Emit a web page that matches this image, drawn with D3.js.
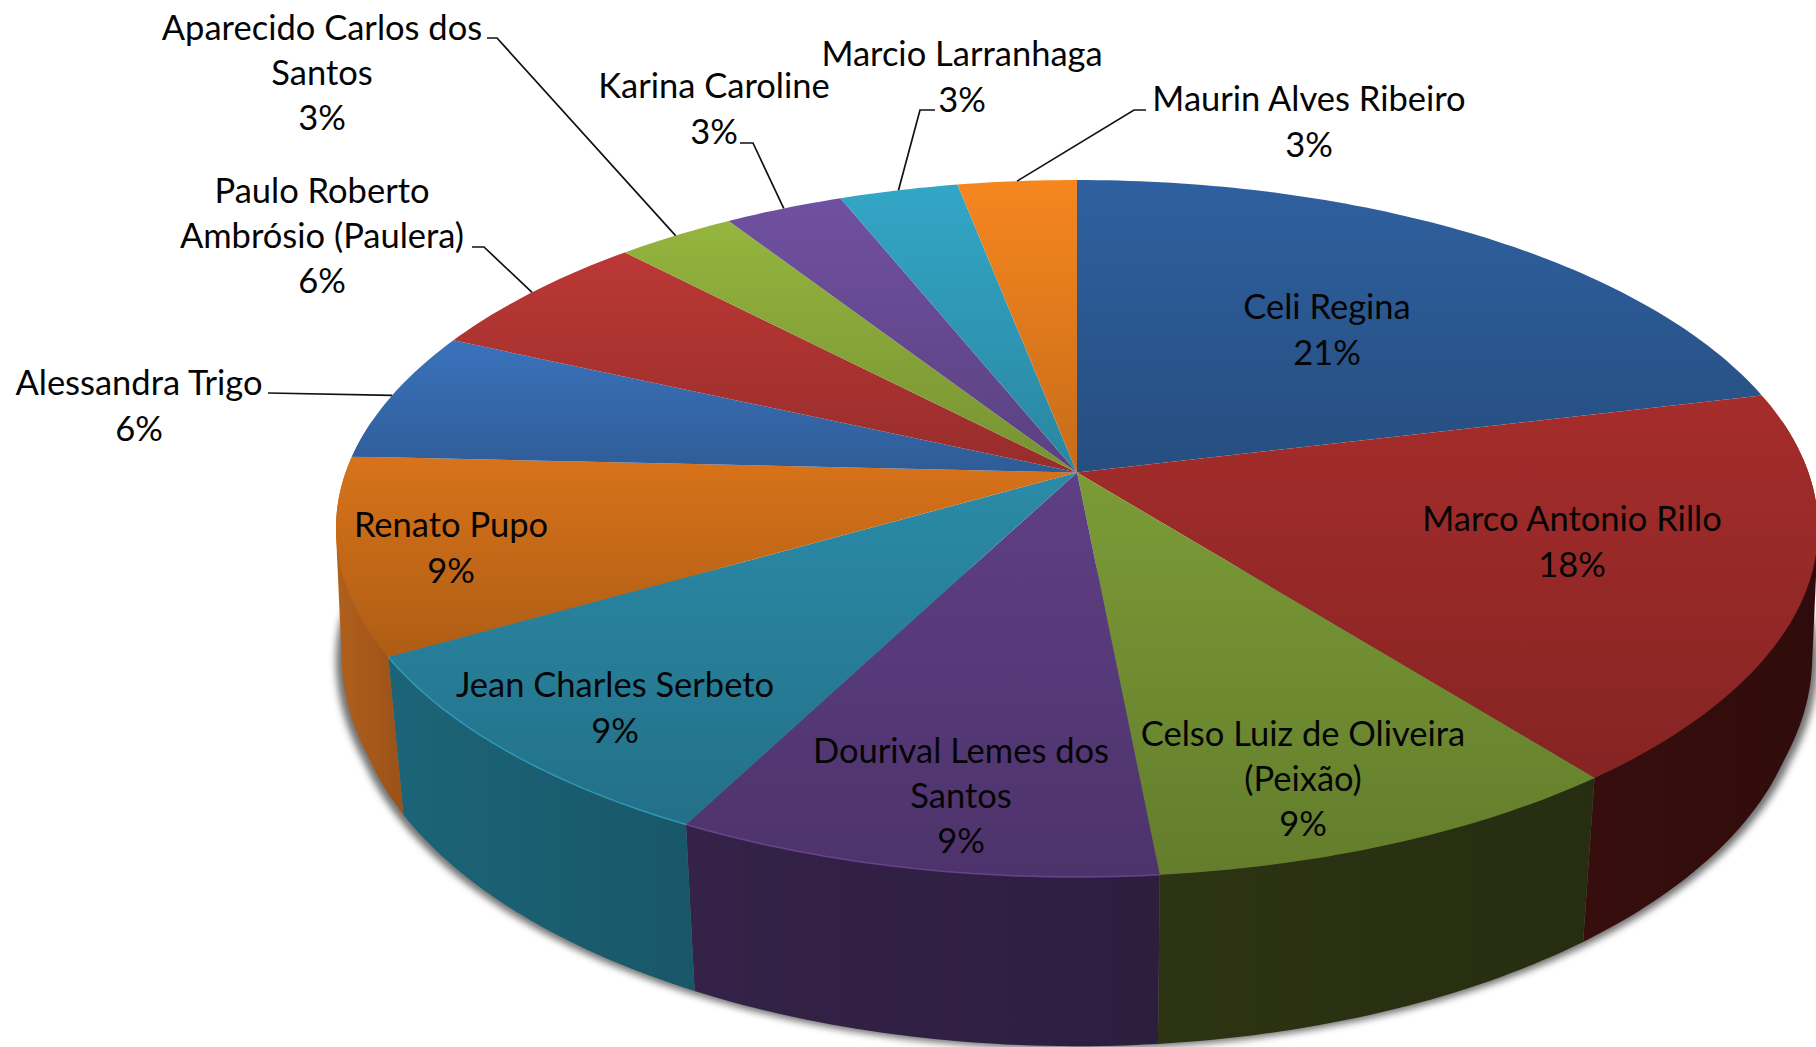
<!DOCTYPE html>
<html>
<head>
<meta charset="utf-8">
<script src="https://cdn.jsdelivr.net/npm/d3@7"></script>
<style>
  html, body { margin: 0; padding: 0; background: #fff; overflow: hidden; }
  text { font-family: Lato, "Open Sans", sans-serif; font-size: 34.5px; fill: #050505; }
</style>
</head>
<body>
<div id="chart"></div>
<script>
// chart data
const names = ["Celi Regina", "Marco Antonio Rillo", "Celso Luiz de Oliveira (Peixão)", "Dourival Lemes dos Santos",
  "Jean Charles Serbeto", "Renato Pupo", "Alessandra Trigo", "Paulo Roberto Ambrósio (Paulera)",
  "Aparecido Carlos dos Santos", "Karina Caroline", "Marcio Larranhaga", "Maurin Alves Ribeiro"];
const counts = [7, 6, 3, 3, 3, 3, 2, 2, 1, 1, 1, 1];
const percentLabels = ["21%", "18%", "9%", "9%", "9%", "9%", "6%", "6%", "3%", "3%", "3%", "3%"];
const nameLines = [["Celi Regina"], ["Marco Antonio Rillo"], ["Celso Luiz de Oliveira", "(Peixão)"], ["Dourival Lemes dos", "Santos"],
  ["Jean Charles Serbeto"], ["Renato Pupo"], ["Alessandra Trigo"], ["Paulo Roberto", "Ambrósio (Paulera)"],
  ["Aparecido Carlos dos", "Santos"], ["Karina Caroline"], ["Marcio Larranhaga"], ["Maurin Alves Ribeiro"]];
const colors = ["#2f609f", "#a52d2b", "#7b9b36", "#5f3f85", "#2b8ba8", "#d8731a", "#3a72bb", "#bb3835", "#94b53e", "#7050a0", "#33a6c6", "#f6861f"];
const wallColors = ["#1f4271", "#330d0c", "#2a3012", "#302043", "#1a5d70", "#a5581a", "#3a72bb", "#bb3835", "#94b53e", "#7050a0", "#33a6c6", "#f6861f"];

// layout, label centres and leader lines
const width = 1816, height = 1047;
const labelCentres = [[1327, 331], [1572, 543], [1303, 780], [961, 797], [615, 709], [451, 549], [139, 407], [322, 237], [322, 74], [714, 110], [962, 78], [1309, 123]];
const leaderElbows = [null, null, null, null, null, null, [268, 393], [484, 247], [497, 38], [753, 143], [920, 110], [1134, 110]];
const leaderEnds = [null, null, null, null, null, null, [268, 393], [472, 247], [487, 38], [740, 143], [935, 110], [1146, 110]];

const svg = d3.select("#chart").append("svg").attr("width", width).attr("height", height);
const defs = svg.append("defs");

// perspective projection of the unit disc on to the page
const cx = 1077, cy = 472.5, A = 731.4, B = 339.5, k = 0.1607;
function topRim(a) {
  const u = Math.sin(a), v = -Math.cos(a), w = 1 - k * v;
  return [cx + A * u / w, cy + B * v / w];
}
function bottomRim(a) {
  const p = topRim(a), v = -Math.cos(a);
  const sx = Math.min(1, Math.max(0.978, 1 - 0.06 * v));
  return [cx + (p[0] - cx) * sx, p[1] * 1.053 + 122.7];
}
function arcPts(fn, a0, a1) {
  const n = Math.max(2, Math.ceil((a1 - a0) * 60));
  return d3.range(n + 1).map(i => fn(a0 + (a1 - a0) * i / n));
}

const arcs = d3.pie().sort(null).value(d => d)(counts);
const line = d3.line();

// soft shadow under the pie
defs.append("filter").attr("id", "blur").attr("x", "-10%").attr("y", "-10%").attr("width", "120%").attr("height", "120%")
  .append("feGaussianBlur").attr("stdDeviation", 3.5);
svg.append("path")
  .attr("d", line(arcPts(a => { const p = bottomRim(a); return [cx + (p[0] - cx) * 1.008, p[1] + 3]; }, 0.45 * Math.PI, 1.55 * Math.PI)))
  .attr("fill", "#444").attr("opacity", 0.75).attr("filter", "url(#blur)");

// side walls, only the front of the rim is visible
const walls = svg.append("g");
arcs.forEach((d, i) => {
  const a0 = Math.max(d.startAngle, 0.45 * Math.PI), a1 = Math.min(d.endAngle, 1.55 * Math.PI);
  if (a1 <= a0) return;
  const upper = arcPts(topRim, a0, a1), lower = arcPts(bottomRim, a0, a1).reverse();
  const hull = d3.polygonHull(upper.concat(lower));
  const id = "wall" + i;
  const xs = hull.map(p => p[0]);
  const g = defs.append("linearGradient").attr("id", id).attr("gradientUnits", "userSpaceOnUse")
    .attr("x1", d3.min(xs)).attr("x2", d3.max(xs)).attr("y1", 0).attr("y2", 0);
  g.append("stop").attr("offset", 0).attr("stop-color", d3.color(wallColors[i]).brighter(0.2));
  g.append("stop").attr("offset", 1).attr("stop-color", d3.color(wallColors[i]).darker(0.2));
  walls.append("path").attr("d", line(hull) + "Z").attr("fill", `url(#${id})`);
});

// top face slices
const slices = svg.append("g");
arcs.forEach((d, i) => {
  const pts = [[cx, cy]].concat(arcPts(topRim, d.startAngle, d.endAngle));
  const ys = pts.map(p => p[1]);
  const id = "face" + i;
  const g = defs.append("linearGradient").attr("id", id).attr("gradientUnits", "userSpaceOnUse")
    .attr("x1", 0).attr("x2", 0).attr("y1", d3.min(ys)).attr("y2", d3.max(ys));
  g.append("stop").attr("offset", 0).attr("stop-color", colors[i]);
  g.append("stop").attr("offset", 1).attr("stop-color", d3.color(colors[i]).darker(0.6));
  slices.append("path").attr("d", line(pts) + "Z").attr("fill", `url(#${id})`);
});
// light rim on the front left edge
[3, 4].forEach(i => {
  const d = arcs[i];
  slices.append("path").attr("d", line(arcPts(topRim, d.startAngle, d.endAngle)))
    .attr("fill", "none").attr("stroke", d3.color(colors[i]).brighter(0.6)).attr("stroke-opacity", 0.7).attr("stroke-width", 1.5);
});

// leader lines from the rim to the outside labels
const leaders = svg.append("g").attr("fill", "none").attr("stroke", "#111").attr("stroke-width", 1.7);
arcs.forEach((d, i) => {
  if (!leaderElbows[i]) return;
  const mid = (d.startAngle + d.endAngle) / 2;
  leaders.append("path").attr("d", line([topRim(mid), leaderElbows[i], leaderEnds[i]]));
});

// labels
const labels = svg.append("g").attr("text-anchor", "middle");
names.forEach((name, i) => {
  const rows = nameLines[i].concat(percentLabels[i]);
  const t = labels.append("text").attr("transform", `translate(${labelCentres[i]})`);
  rows.forEach((r, j) => {
    t.append("tspan").attr("x", 0).attr("y", (j - (rows.length - 1) / 2) * 45.4 + 11).text(r);
  });
});
</script>
</body>
</html>
